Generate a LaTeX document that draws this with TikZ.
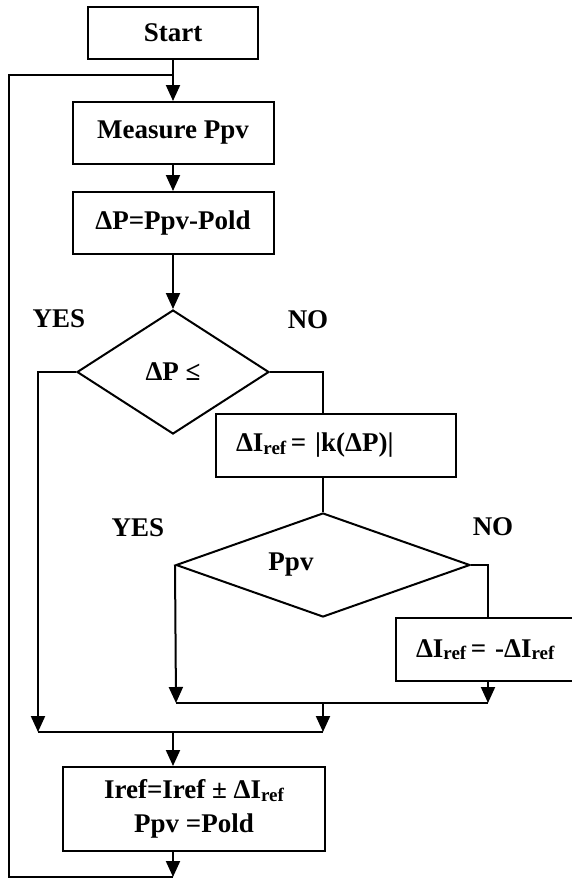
\documentclass[tikz,border=0pt]{standalone}
\usepackage{fontspec}
\setmainfont{Liberation Serif}
\usetikzlibrary{shapes.geometric, arrows.meta}
\newcommand{\rf}{\raisebox{-0.2ex}{\fontsize{9.5}{10}\selectfont ref}}

\begin{document}
\begin{tikzpicture}[x=0.5pt, y=-0.5pt, line width=1pt,
  box/.style={draw, rectangle, inner sep=0pt,
              font=\fontsize{13.5}{17}\selectfont\bfseries},
  decision/.style={draw, diamond, inner sep=0pt,
              font=\fontsize{13.5}{17}\selectfont\bfseries},
  lbl/.style={font=\fontsize{13.5}{17}\selectfont\bfseries},
  arr/.style={-{Triangle[length=8pt,width=7pt]}},
]
\useasboundingbox (0,0) rectangle (572,879);

\node[box, minimum width=85pt, minimum height=26pt] (start) at (173,33) {Start};
\node[box, minimum width=100.5pt, minimum height=31pt] (measure) at (173,133) {Measure Ppv};
\node[box, minimum width=100.5pt, minimum height=31pt] (dp) at (173,223) {ΔP=Ppv-Pold};
\node[decision, minimum width=96pt, minimum height=62pt] (dec1) at (173,372) {ΔP ≤};
\node[box, text width=100pt, align=left, inner xsep=10pt, minimum height=31.5pt]
  (ref1) at (336,445.5) {ΔI\rf\,= |k(ΔP)|};
\node[decision, minimum width=147pt, minimum height=52pt,
  label={[lbl, xshift=-16pt]center:Ppv}] (dec2) at (323,565) {};
\node[box, text width=75pt, align=left, inner xsep=10pt, minimum height=31.5pt]
  (ref2) at (491,649.5) {ΔI\rf\,= -ΔI\rf};
\node[box, align=center, minimum width=131pt, minimum height=42pt]
  (iref) at (194,809) {Iref=Iref ± ΔI\rf\\Ppv =Pold};

\node[lbl] (yes1) at (59,319) {YES};
\node[lbl] (no1) at (308,320) {NO};
\node[lbl] (yes2) at (138,528) {YES};
\node[lbl] (no2) at (493,527) {NO};

\coordinate (loop) at (173,75);
\coordinate (y1) at (38,372);
\coordinate (j2a) at (38,732);
\coordinate (j2b) at (323,732);
\coordinate (j2c) at (173,732);
\coordinate (n1) at (323,372);
\coordinate (n2) at (488,565);
\coordinate (j1a) at (176,703);
\coordinate (j1b) at (488,703);
\coordinate (j1c) at (323,703);
\coordinate (bot) at (173,877);
\coordinate (lc) at (9,75);

\draw[arr] (start) -- (measure);
\draw[arr] (measure) -- (dp);
\draw[arr] (dp) -- (dec1);
\draw[arr] (dec1.west) -- (y1) -- (j2a);
\draw (dec1.east) -- (n1) -- (n1 |- ref1.north);
\draw (dec2.north |- ref1.south) -- (dec2.north);
\draw[arr] (dec2.west) -- (j1a);
\draw (dec2.east) -- (n2) -- (n2 |- ref2.north);
\draw[arr] (n2 |- ref2.south) -- (j1b);
\draw (j1a) -- (j1b);
\draw[arr] (j1c) -- (j2b);
\draw (j2a) -- (j2b);
\draw[arr] (j2c) -- (j2c |- iref.north);
\draw[arr] (j2c |- iref.south) -- (bot);
\draw (bot) -| (lc) -- (loop);
\end{tikzpicture}
\end{document}
